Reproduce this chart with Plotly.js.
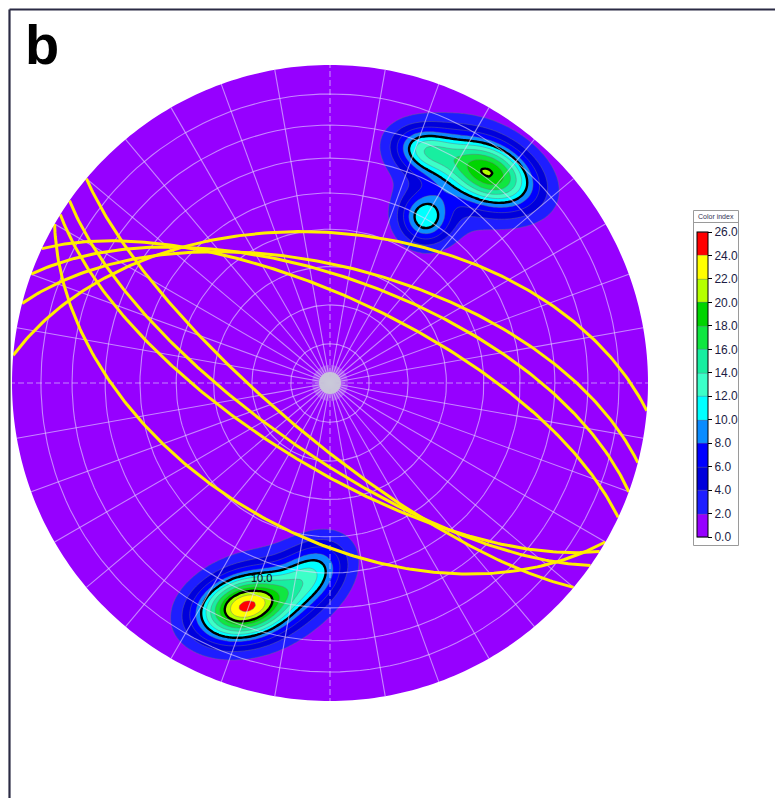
<!DOCTYPE html>
<html><head><meta charset="utf-8">
<script src="https://cdn.plot.ly/plotly-3.0.1.min.js"></script>
<style>html,body{margin:0;padding:0;background:#fff;} #chart{width:775px;height:798px;}</style>
</head><body><div id="chart"></div>
<script>
// ---- Pole density concentrations (net coordinates, primitive circle radius = 1) ----
const clusterX = [-0.267, -0.055, -0.189, 0.503, 0.296, 0.299, 0.377];
const clusterY = [-0.704, -0.598, -0.667, 0.660, 0.733, 0.519, 0.638];
const clusterPeak = [22.3, 9.5, 2.5, 18.0, 9.6, 10, 3.2];
const clusterSigmaMajor = [0.105, 0.085, 0.16, 0.108, 0.07, 0.055, 0.14];
const clusterSigmaMinor = [0.068, 0.062, 0.12, 0.068, 0.05, 0.055, 0.14];
const clusterAngle = [15, 40, 20, -25, -15, 0, 0];

// ---- Great circles (planes): dip direction / dip, degrees ----
const planeDipDirection = [5, 14.5, 20, 25, 220, 215, 212, 210];
const planeDip = [51, 60, 63, 68, 76, 72, 69, 51];

// ---- Colour index levels ----
const levelValues = [0, 2, 4, 6, 8, 10, 12, 14, 16, 18, 20, 22, 24, 26];
const levelLabels = ['0.0','2.0','4.0','6.0','8.0','10.0','12.0','14.0','16.0','18.0','20.0','22.0','24.0','26.0'];
const bandColors = ['#9600ff','#1e1eff','#0000dc','#0000ff','#0a8cff','#00ffff','#3cffc8','#18eea0','#10e640','#00d400','#b4ff00','#ffff00','#ff0000'];
const boldLevels = [10, 20];
const gridDips = [10, 20, 30, 40, 50, 60, 70, 80];
const gridAzimuthStep = 10;

const D2R = Math.PI / 180;
function project(trend, plunge) {
  const r = Math.SQRT2 * Math.sin((90 - plunge) * D2R / 2);
  return [r * Math.sin(trend * D2R), r * Math.cos(trend * D2R)];
}

// density grid
const N = 201;
const gx = [], gy = [];
for (let i = 0; i < N; i++) { gx.push(-1 + 2 * i / (N - 1)); gy.push(-1 + 2 * i / (N - 1)); }
const gz = gy.map(y => gx.map(x => {
  let s = 0;
  for (let k = 0; k < clusterX.length; k++) {
    const a = clusterAngle[k] * D2R;
    const dx = x - clusterX[k], dy = y - clusterY[k];
    const u = dx * Math.cos(a) + dy * Math.sin(a);
    const v = -dx * Math.sin(a) + dy * Math.cos(a);
    s += clusterPeak[k] * Math.exp(-(u * u) / (2 * clusterSigmaMajor[k] ** 2) - (v * v) / (2 * clusterSigmaMinor[k] ** 2));
  }
  return s;
}));

const nb = bandColors.length;
const colorscale = [];
bandColors.forEach((c, i) => { colorscale.push([i / nb, c]); colorscale.push([(i + 1) / nb, c]); });

const FONT = 'Liberation Sans, Arial, sans-serif';
const traces = [];
traces.push({
  type: 'contour', x: gx, y: gy, z: gz, zmin: 0, zmax: 26,
  autocontour: false,
  contours: { start: 0, end: 26, size: 2, coloring: 'fill', showlines: true },
  line: { color: 'rgba(110,110,130,0.75)', width: 0.6, smoothing: 1 },
  colorscale: colorscale, hoverinfo: 'skip',
  colorbar: {
    x: 1.077, xanchor: 'left', y: 0.4976, yanchor: 'middle',
    lenmode: 'pixels', len: 305, thickness: 11, thicknessmode: 'pixels',
    xpad: 0, ypad: 0,
    outlinecolor: '#000', outlinewidth: 1,
    borderwidth: 0, bgcolor: 'rgba(0,0,0,0)',
    tickmode: 'array', tickvals: levelValues, ticktext: levelLabels,
    ticks: 'outside', ticklen: 4, tickcolor: '#000', tickwidth: 1,
    tickfont: { family: FONT, size: 12, color: '#1c1c44' }
  }
});
traces.push({
  type: 'contour', x: gx, y: gy, z: gz, showscale: false, hoverinfo: 'skip',
  autocontour: false,
  contours: { start: boldLevels[0], end: boldLevels[1], size: boldLevels[1] - boldLevels[0], coloring: 'none' },
  line: { color: '#000', width: 2.4, smoothing: 1 }
});

// grid: small circles of equal dip and radial lines
const gridColor = 'rgba(228,215,255,0.62)';
gridDips.forEach(d => {
  const xs = [], ys = [];
  for (let t = 0; t <= 360; t += 2) { const p = project(t, d); xs.push(p[0]); ys.push(p[1]); }
  traces.push({ type: 'scatter', mode: 'lines', x: xs, y: ys, line: { color: gridColor, width: 1.1 }, hoverinfo: 'skip', showlegend: false });
});
for (let az = 0; az < 360; az += gridAzimuthStep) {
  const p = project(az, 0);
  traces.push({ type: 'scatter', mode: 'lines', x: [0, p[0]], y: [0, p[1]],
    line: { color: gridColor, width: 1.1, dash: (az % 90 === 0) ? '6px,3px' : 'solid' }, hoverinfo: 'skip', showlegend: false });
}
// centre marker
traces.push({ type: 'scatter', mode: 'markers', x: [0], y: [0], marker: { size: 36, color: 'rgba(210,205,230,0.3)' }, hoverinfo: 'skip', showlegend: false });
traces.push({ type: 'scatter', mode: 'markers', x: [0], y: [0], marker: { size: 22, color: 'rgba(200,200,215,0.95)' }, hoverinfo: 'skip', showlegend: false });

// great circles
planeDipDirection.forEach((dd, k) => {
  const dip = planeDip[k];
  const s = (dd - 90) * D2R, ddr = dd * D2R, dr = dip * D2R;
  const S = [Math.sin(s), Math.cos(s), 0];
  const Dv = [Math.cos(dr) * Math.sin(ddr), Math.cos(dr) * Math.cos(ddr), -Math.sin(dr)];
  const xs = [], ys = [];
  for (let l = 0; l <= 180; l += 1) {
    const c = Math.cos(l * D2R), sn = Math.sin(l * D2R);
    const L = [c * S[0] + sn * Dv[0], c * S[1] + sn * Dv[1], c * S[2] + sn * Dv[2]];
    const plunge = Math.asin(Math.min(1, Math.max(-1, -L[2]))) / D2R;
    const trend = Math.atan2(L[0], L[1]) / D2R;
    const p = project(trend, plunge); xs.push(p[0]); ys.push(p[1]);
  }
  traces.push({ type: 'scatter', mode: 'lines', x: xs, y: ys, line: { color: '#ffee00', width: 3 }, hoverinfo: 'skip', showlegend: false });
});

// white mask outside the primitive circle
let mask = 'M -1.5,-1.5 L 1.5,-1.5 L 1.5,1.5 L -1.5,1.5 Z M 1,0';
for (let t = 1; t <= 360; t++) mask += ' L ' + Math.cos(t * D2R).toFixed(5) + ',' + Math.sin(t * D2R).toFixed(5);
mask += ' Z';

// paper coordinates helpers (plot area: x 12..648 px, y 65..701 px)
const px = v => (v - 12) / 636, py = v => (701 - v) / 636;

const layout = {
  width: 775, height: 798, autosize: false,
  margin: { l: 12, r: 127, t: 65, b: 97, pad: 0 },
  paper_bgcolor: '#fff', plot_bgcolor: '#fff', showlegend: false,
  xaxis: { range: [-1, 1], visible: false, fixedrange: true },
  yaxis: { range: [-1, 1], visible: false, fixedrange: true },
  shapes: [
    { type: 'path', xref: 'x', yref: 'y', path: mask, fillcolor: '#fff', fillrule: 'evenodd', line: { width: 0 }, layer: 'above' },
    { type: 'line', xref: 'paper', yref: 'paper', x0: px(9.5), x1: px(9.5), y0: py(9.5), y1: py(800), line: { color: '#2b2b44', width: 2.2 } },
    { type: 'line', xref: 'paper', yref: 'paper', x0: px(9.5), x1: px(776), y0: py(9.5), y1: py(9.5), line: { color: '#2b2b44', width: 2.2 } },
    // colour index legend box and title separator
    { type: 'rect', xref: 'paper', yref: 'paper', x0: px(693.5), x1: px(738.5), y0: py(545.5), y1: py(210.5), line: { color: '#9a9a9a', width: 1 }, layer: 'below' },
    { type: 'line', xref: 'paper', yref: 'paper', x0: px(693.5), x1: px(738.5), y0: py(222.5), y1: py(222.5), line: { color: '#9a9a9a', width: 1 } }
  ],
  annotations: [
    { xref: 'paper', yref: 'paper', x: px(42), y: py(44), xanchor: 'center', yanchor: 'middle', showarrow: false,
      text: '<b>b</b>', font: { family: FONT, size: 56, color: '#000' } },
    { xref: 'x', yref: 'y', x: -0.214, y: -0.613, showarrow: false, text: '10.0',
      font: { family: FONT, size: 11, color: '#000' } },
    { xref: 'paper', yref: 'paper', x: px(716), y: py(216.5), xanchor: 'center', yanchor: 'middle', showarrow: false,
      text: 'Color index', font: { family: FONT, size: 7, color: '#333355' } }
  ]
};
Plotly.newPlot('chart', traces, layout, { displayModeBar: false, staticPlot: true });
</script>
</body></html>
